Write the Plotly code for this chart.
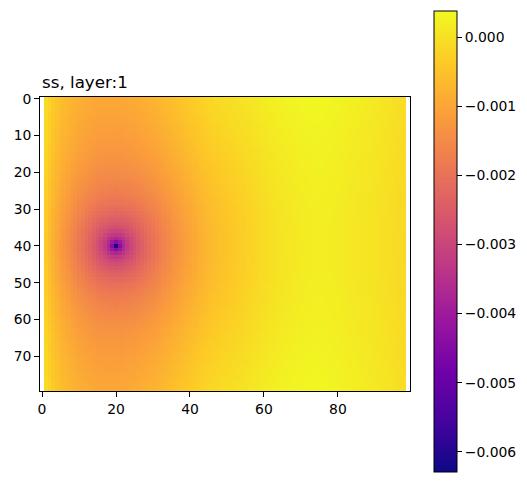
import numpy as np
import plotly.graph_objects as go

# ---- data ----
n_rows, n_cols = 80, 100
well_row, well_col = 40, 20
well_min = -0.00629            # value of the pumping cell
# head change along the top row (row 0), read at these columns
bg_cols = [1, 3, 5, 10, 15, 20, 25, 30, 35, 40, 45, 50, 55, 60, 65, 70, 75, 80, 85, 90, 95, 98]
bg_vals = [-0.00008, -0.00035, -0.00055, -0.00082, -0.00095, -0.00095, -0.00088, -0.00075,
           -0.00055, -0.00035, -0.00015, -0.00005, 0.00005, 0.00018, 0.00028, 0.00034,
           0.00036, 0.00030, 0.00022, 0.00013, 0.00002, -0.00005]
# well cone shape (log drawdown with a partial image well across the left boundary)
cone_a, cone_R, cone_k, cone_re = 0.001, 100.0, 0.7, 0.15
inactive_cols = [0, 99]
zmin, zmax = -0.00629, 0.000385
x_ticks = [0, 20, 40, 60, 80]
y_ticks = [0, 10, 20, 30, 40, 50, 60, 70]
cb_ticks = [0.0, -0.001, -0.002, -0.003, -0.004, -0.005, -0.006]
cb_text = ["0.000", "\u22120.001", "\u22120.002", "\u22120.003", "\u22120.004", "\u22120.005", "\u22120.006"]

# ---- build grid ----
r = np.arange(n_rows)[:, None].astype(float)
c = np.arange(n_cols)[None, :].astype(float)

def cone(rr, cc):
    d = np.maximum(np.hypot(rr - well_row, cc - well_col), cone_re)
    di = np.hypot(rr - well_row, cc + well_col)
    return np.log(cone_R / d) - cone_k * np.log(cone_R / di)

base = np.interp(c, bg_cols, bg_vals)
z = base + cone_a * (cone(0.0, c) - cone(r, c))
z[well_row, well_col] = well_min
z = np.clip(z, zmin, zmax)
z[:, inactive_cols] = np.nan

W, H = 527, 482
ax_l, ax_r, ax_t, ax_b = 37.4, 409.4, 92.1, 390.0
font = "DejaVu Sans"

fig = go.Figure(go.Heatmap(
    z=z, x=np.arange(n_cols), y=np.arange(n_rows),
    colorscale="Plasma", zmin=zmin, zmax=zmax, zsmooth=False,
    hoverinfo="skip",
    colorbar=dict(
        thickness=23, thicknessmode="pixels",
        len=461, lenmode="pixels",
        x=433.3 / W, xanchor="left", xpad=0,
        y=(H - 238.2) / H, yanchor="middle", ypad=0,
        outlinewidth=1, outlinecolor="black",
        ticks="outside", ticklen=5, tickwidth=1, tickcolor="black",
        tickvals=cb_ticks, ticktext=cb_text,
        tickfont=dict(family=font, size=13.9, color="black"),
    ),
))

fig.update_layout(
    width=W, height=H,
    margin=dict(l=0, r=0, t=0, b=0),
    paper_bgcolor="white", plot_bgcolor="white",
    xaxis=dict(
        domain=[ax_l / W, ax_r / W], range=[-0.5, n_cols - 0.5],
        tickvals=x_ticks, ticks="outside", ticklen=5, tickwidth=1, tickcolor="black",
        showgrid=False, zeroline=False, showline=True, linecolor="black", linewidth=1,
        mirror=True, tickfont=dict(family=font, size=13.9, color="black"),
    ),
    yaxis=dict(
        domain=[(H - ax_b) / H, (H - ax_t) / H], range=[n_rows - 0.5, -0.5],
        tickvals=y_ticks, ticks="outside", ticklen=5, tickwidth=1, tickcolor="black",
        showgrid=False, zeroline=False, showline=True, linecolor="black", linewidth=1,
        mirror=True, tickfont=dict(family=font, size=13.9, color="black"),
    ),
    annotations=[dict(
        text="ss, layer:1", xref="paper", yref="paper",
        x=ax_l / W, y=(H - 77) / H, xanchor="left", yanchor="middle",
        showarrow=False, font=dict(family=font, size=16.7, color="black"),
    )],
)

fig.write_html("out.html")
